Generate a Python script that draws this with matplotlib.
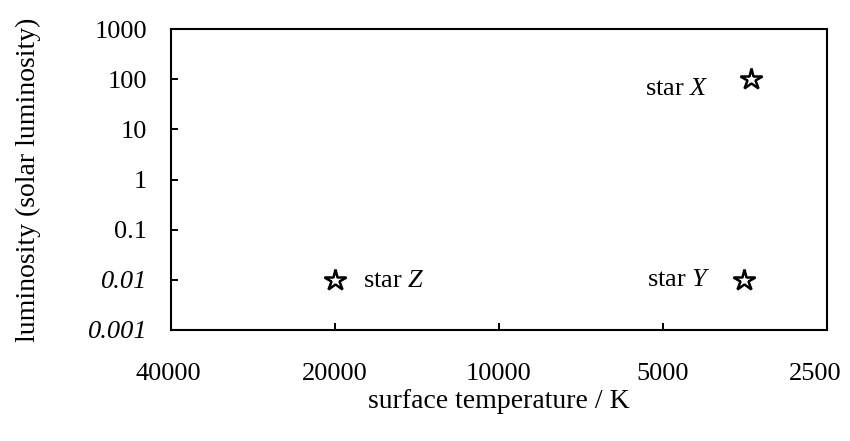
import matplotlib.pyplot as plt
from matplotlib.ticker import FixedLocator, NullLocator
from matplotlib.transforms import ScaledTranslation

plt.rcParams["font.family"] = ["Liberation Serif", "DejaVu Serif"]
plt.rcParams["mathtext.fontset"] = "custom"
plt.rcParams["mathtext.rm"] = "Liberation Serif"
plt.rcParams["mathtext.it"] = "Liberation Serif:italic"

# star data
star_names = ["X", "Y", "Z"]
temperatures = [3450, 3550, 20000]
luminosities = [100, 0.01, 0.01]

y_ticks = [1000, 100, 10, 1, 0.1, 0.01, 0.001]
y_tick_labels = ["1000", "100", "10", "1", "0.1", "0.01", "0.001"]
x_ticks = [40000, 20000, 10000, 5000, 2500]
x_tick_labels = ["40000", "20000", "10000", "5000", "2500"]

fs = 19

fig = plt.figure(figsize=(8.5, 4.41), dpi=100)
ax = fig.add_axes([171 / 850, 1 - 330 / 441, (827 - 171) / 850, (330 - 29) / 441])

ax.set_xscale("log")
ax.set_yscale("log")
ax.set_xlim(40000, 2500)
ax.set_ylim(0.001, 1000)

ax.plot(temperatures, luminosities, linestyle="None", marker="*", markersize=16,
        markerfacecolor="white", markeredgecolor="black", markeredgewidth=1.8)

# label offsets (points) so each name sits beside its star
offsets = {"X": (-30, -7, "right"), "Y": (-24, 0, "right"), "Z": (20, -1, "left")}
for name, t, l in zip(star_names, temperatures, luminosities):
    dx, dy, ha = offsets[name]
    ax.annotate("star $\\mathit{" + name + "}$", (t, l), xytext=(dx, dy),
                textcoords="offset points", ha=ha, va="center", fontsize=fs)

ax.yaxis.set_major_locator(FixedLocator(y_ticks))
ax.set_yticklabels(y_tick_labels)
ax.xaxis.set_major_locator(FixedLocator(x_ticks))
ax.set_xticklabels(x_tick_labels)
ax.xaxis.set_minor_locator(NullLocator())
ax.yaxis.set_minor_locator(NullLocator())

for lab in ax.get_yticklabels():
    if lab.get_text() in ("0.01", "0.001"):
        lab.set_style("italic")

ax.tick_params(axis="both", direction="in", length=5, width=1.4, labelsize=fs)
ax.tick_params(axis="y", pad=17)
ax.tick_params(axis="x", pad=24)

# the corner labels sit a little inside the frame in the original
shift = {"40000": -3, "2500": -12}
for lab in ax.get_xticklabels():
    px = shift.get(lab.get_text(), 0)
    if px:
        lab.set_transform(lab.get_transform() + ScaledTranslation(px / 100, 0, fig.dpi_scale_trans))

for sp in ax.spines.values():
    sp.set_linewidth(1.5)

ax.set_xlabel("surface temperature / K", fontsize=fs + 1, labelpad=3)
ax.set_ylabel("luminosity (solar luminosity)", fontsize=fs + 1, labelpad=34)

fig.savefig("out.png", dpi=100)
